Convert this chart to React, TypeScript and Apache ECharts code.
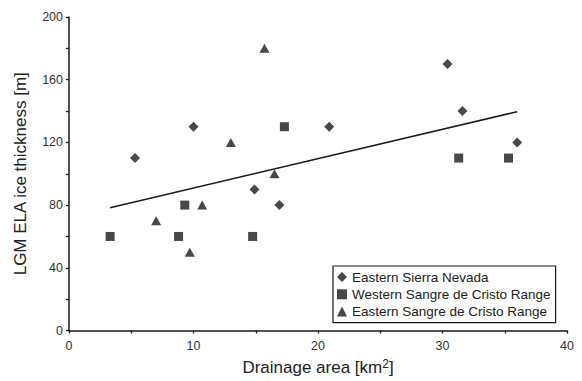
import React, { useEffect, useRef } from "react";
import * as echarts from "echarts";

const sierraX = [5.3, 10.0, 14.9, 16.9, 20.9, 30.4, 31.6, 36.0];
const sierraY = [110, 130, 90, 80, 130, 170, 140, 120];
const westX = [3.3, 8.8, 9.3, 14.75, 17.3, 31.3, 35.3];
const westY = [60, 60, 80, 60, 130, 110, 110];
const eastX = [7.0, 9.7, 10.7, 13.0, 15.7, 16.5];
const eastY = [70, 50, 80, 120, 180, 100];
const trendX = [3.3, 36.0];
const trendY = [78.3, 139.6];
const seriesNames = ["Eastern Sierra Nevada", "Western Sangre de Cristo Range", "Eastern Sangre de Cristo Range"];

const zip = (xs: number[], ys: number[]) => xs.map((x, i) => [x, ys[i]]);
const FONT = "'Liberation Sans', Arial, Helvetica, sans-serif";

export default function App() {
  const ref = useRef<HTMLDivElement>(null);
  useEffect(() => {
    if (!ref.current) return;
    const chart = echarts.init(ref.current, null, { renderer: "svg" });
    const axisCommon = {
      axisLine: { show: true, onZero: false, lineStyle: { color: "#1a1a1a", width: 1.5 } },
      axisTick: { show: true, inside: false, length: 3, lineStyle: { color: "#1a1a1a", width: 1.3 } },
      minorTick: { show: true, splitNumber: 2, length: 3, lineStyle: { color: "#1a1a1a", width: 1.3 } },
      splitLine: { show: false },
      minorSplitLine: { show: false },
      axisLabel: { color: "#333", fontSize: 12.5, fontFamily: FONT },
      nameTextStyle: { color: "#222", fontSize: 17, fontFamily: FONT },
    };
    chart.setOption({
      animation: false,
      backgroundColor: "#fff",
      grid: { left: 69, right: 15, top: 17, bottom: 47, containLabel: false },
      xAxis: {
        type: "value",
        min: 0,
        max: 40,
        interval: 10,
        name: "Drainage area [km{sup|2}]",
        nameLocation: "middle",
        nameGap: 27,
        ...axisCommon,
        axisLabel: { ...axisCommon.axisLabel, margin: 9 },
        nameTextStyle: {
          ...axisCommon.nameTextStyle,
          rich: { sup: { fontSize: 12, verticalAlign: "top", padding: [0, 0, 8, 0], color: "#222", fontFamily: FONT } },
        },
      },
      yAxis: {
        type: "value",
        min: 0,
        max: 200,
        interval: 40,
        name: "LGM ELA ice thickness [m]",
        nameLocation: "middle",
        nameGap: 40,
        ...axisCommon,
        axisLabel: { ...axisCommon.axisLabel, margin: 6 },
      },
      legend: {
        data: seriesNames,
        orient: "vertical",
        left: 333,
        top: 266,
        itemWidth: 10,
        itemHeight: 10,
        itemGap: 3.3,
        padding: [4, 5, 4, 4],
        borderColor: "#1a1a1a",
        borderWidth: 1.2,
        backgroundColor: "#fff",
        textStyle: { color: "#222", fontSize: 13.5, lineHeight: 14, fontFamily: FONT },
      },
      series: [
        {
          name: seriesNames[0],
          type: "scatter",
          symbol: "diamond",
          symbolSize: 10,
          itemStyle: { color: "#1a1a1a" },
          data: zip(sierraX, sierraY),
        },
        {
          name: seriesNames[1],
          type: "scatter",
          symbol: "rect",
          symbolSize: 9,
          itemStyle: { color: "#1a1a1a" },
          data: zip(westX, westY),
        },
        {
          name: seriesNames[2],
          type: "scatter",
          symbol: "triangle",
          symbolSize: [10, 9],
          itemStyle: { color: "#1a1a1a" },
          data: zip(eastX, eastY),
        },
        {
          name: "trend",
          type: "line",
          showSymbol: false,
          symbol: "none",
          lineStyle: { color: "#1a1a1a", width: 1.5 },
          data: zip(trendX, trendY),
          z: 1,
        },
      ],
    });
    return () => chart.dispose();
  }, []);
  return <div ref={ref} style={{ width: 582, height: 381, position: "absolute", left: 0, top: 0 }} />;
}
